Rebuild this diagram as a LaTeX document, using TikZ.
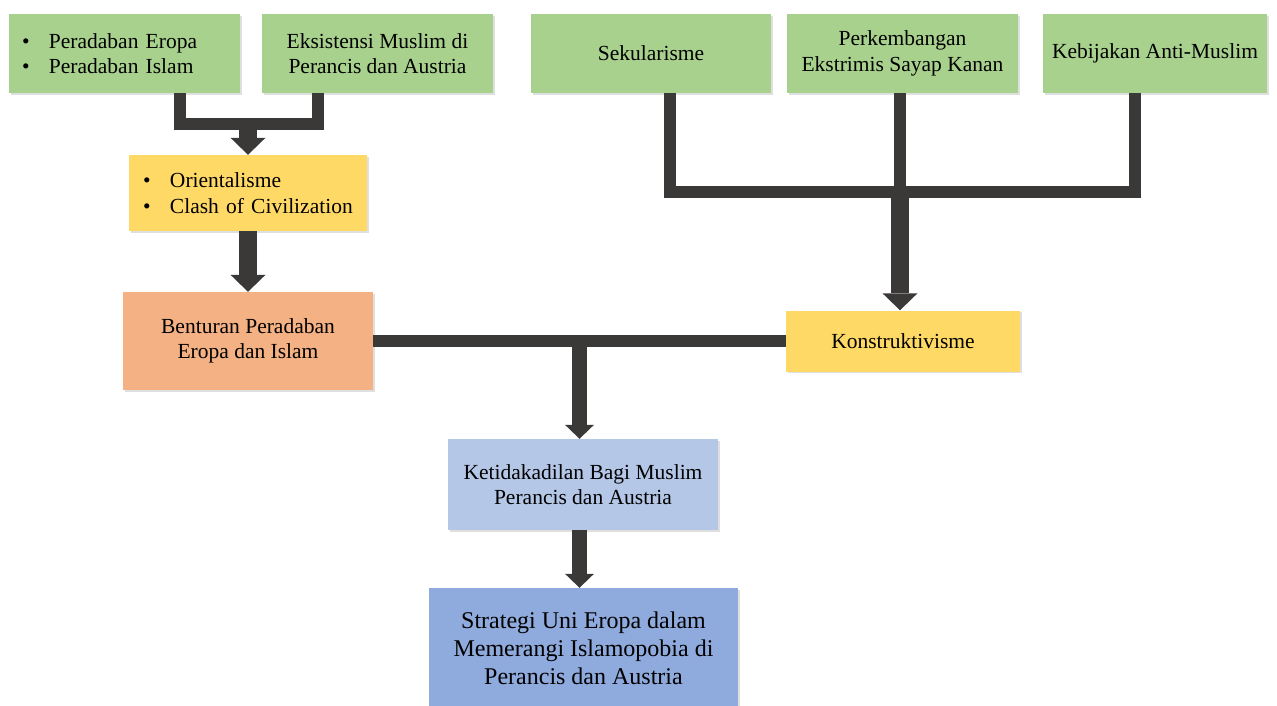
\documentclass[tikz,border=0pt]{standalone}
\usepackage{fontspec}
\setmainfont{Liberation Serif}
\usetikzlibrary{arrows.meta,shadows}
\definecolor{boxgreen}{HTML}{A9D18E}
\definecolor{boxyellow}{HTML}{FFD966}
\definecolor{boxorange}{HTML}{F4B183}
\definecolor{boxlblue}{HTML}{B4C7E7}
\definecolor{boxblue}{HTML}{8FAADC}
\definecolor{linkgray}{HTML}{3B3838}
\newcommand{\bul}{\makebox[27pt][l]{\textbullet}}

\begin{document}
\begin{tikzpicture}[x=1pt,y=-1pt]
\tikzstyle{every node}+=[inner sep=0pt, font=\fontsize{21.5}{25.5}\selectfont]
\tikzstyle{box}=[draw=none, align=center, drop shadow={shadow xshift=1.5pt,shadow yshift=-1.5pt,opacity=0.25}]
\tikzstyle{link}=[draw=linkgray, line width=12pt]
\tikzstyle{bigarrow}=[draw=linkgray, line width=18pt, -{Triangle[width=35pt,length=17pt,line width=0pt]}]
\tikzstyle{smallarrow}=[draw=linkgray, line width=15pt, -{Triangle[width=29pt,length=14pt,line width=0pt]}]
\useasboundingbox (0,0) rectangle (1277,705);
\node[box, fill=boxgreen, text width=205pt, inner xsep=13pt, minimum height=79pt, align=left] (eropa) at (124.5,53.5) {\bul Peradaban Eropa\\\bul Peradaban Islam};
\node[box, fill=boxgreen, minimum width=231pt, minimum height=79pt] (eksis) at (377.5,53.5) {Eksistensi Muslim di\\Perancis dan Austria};
\node[box, fill=boxgreen, minimum width=240pt, minimum height=79pt] (sekul) at (651,53.5) {Sekularisme};
\node[box, fill=boxgreen, minimum width=231pt, minimum height=79pt] (ekstrim) at (902.5,53.5) {Perkembangan\\Ekstrimis Sayap Kanan};
\node[box, fill=boxgreen, minimum width=224pt, minimum height=79pt] (antimus) at (1155,53.5) {Kebijakan Anti-Muslim};
\node[box, fill=boxyellow, text width=210pt, inner xsep=14pt, minimum height=76pt, align=left] (orient) at (248,193) {\bul Orientalisme\\\bul Clash of Civilization};
\node[box, fill=boxorange, minimum width=250pt, minimum height=98pt] (bentur) at (248,341) {Benturan Peradaban\\Eropa dan Islam};
\node[box, fill=boxyellow, minimum width=234pt, minimum height=61pt] (konstr) at (903,341) {Konstruktivisme};
\node[box, fill=boxlblue, minimum width=270pt, minimum height=91pt] (ketid) at (583,484.5) {Ketidakadilan Bagi Muslim\\Perancis dan Austria};
\node[box, fill=boxblue, minimum width=309pt, minimum height=120pt, font=\fontsize{24}{28}\selectfont] (strat) at (583.5,648) {Strategi Uni Eropa dalam\\Memerangi Islamopobia di\\Perancis dan Austria};
\coordinate (j1) at (248,123.5);
\coordinate (j2) at (900,192);
\coordinate (j3) at (579.5,341);
\draw[link] ([xshift=55pt]eropa.south) |- (j1) -| ([xshift=-59.5pt]eksis.south);
\draw[bigarrow] (j1) -- (orient.north);
\draw[bigarrow] (orient) -- (bentur);
\draw[link] ([xshift=19pt]sekul.south) |- (j2) -| ([xshift=-20pt]antimus.south);
\draw[link] ([xshift=-2.5pt]ekstrim.south) -- (j2);
\draw[bigarrow] (j2) -- (konstr.north -| j2);
\draw[link] (bentur.east) -- (konstr.west);
\draw[smallarrow] (j3) -- (ketid.north -| j3);
\draw[smallarrow] (ketid.south -| j3) -- (strat.north -| j3);
\end{tikzpicture}
\end{document}
